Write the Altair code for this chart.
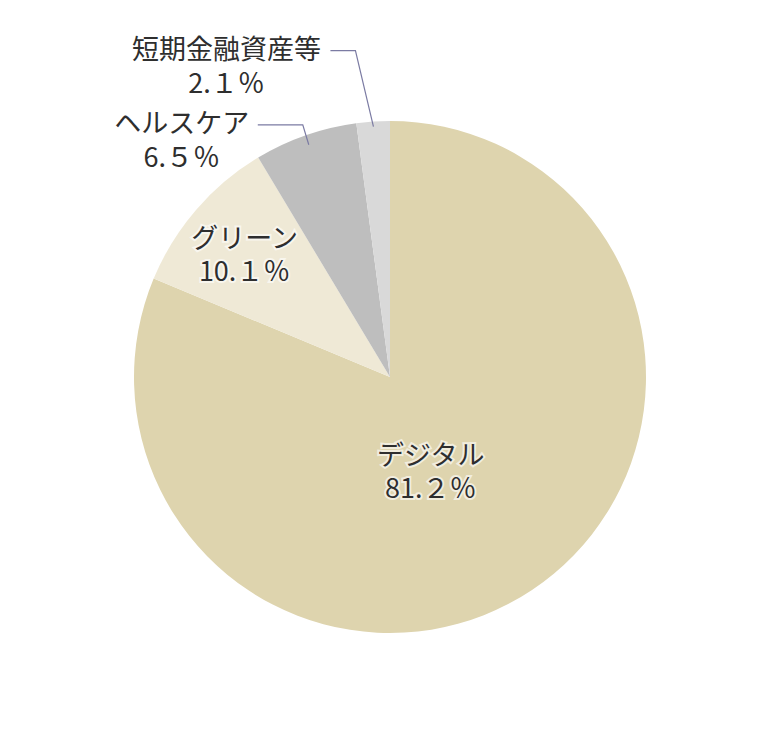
import math
import altair as alt
import pandas as pd

categories = ["デジタル", "グリーン", "ヘルスケア", "短期金融資産等"]
values = [81.2, 10.1, 6.5, 2.1]
pct_labels = ["81.２％", "10.１％", "6.５％", "2.１％"]
colors = ["#ded4ae", "#efe9d6", "#bebebe", "#d9d9d9"]

W, H = 764, 740
CX, CY, R = 382, 369, 256
FONT = "Noto Sans CJK JP"
FS = 27

total = sum(values)
order = list(range(len(categories)))
df = pd.DataFrame({"cat": categories, "val": values, "order": order})

# mid angles (clockwise from 12 o'clock)
mids = []
acc = 0.0
for v in values:
    mids.append((acc + v / 2) / total * 2 * math.pi)
    acc += v

def polar(a, r):
    return CX + r * math.sin(a), CY - r * math.cos(a)

rows = [None] * 4
dx0, dy0 = polar(mids[0], R * 0.40)
rows[0] = (dx0 - 16, dy0 + 11)
gx, gy = polar(mids[1], R * 0.74)
rows[1] = (gx - 2, gy + 3)

hx, hy = polar(mids[2], 246)
sx, sy = polar(mids[3], 251)
rows[2] = (hx - 127, hy - 3)
rows[3] = (sx - 147, sy - 59)

lab = pd.DataFrame({
    "name": categories,
    "pct": pct_labels,
    "x": [r[0] for r in rows],
    "y": [r[1] for r in rows],
})
lab["y1"] = lab["y"] - 16.5
lab["y2"] = lab["y"] + 17

# leader lines (polylines): healthcare and short-term
lines = pd.DataFrame({
    "g": ["h", "h", "h", "s", "s", "s"],
    "i": [0, 1, 2, 0, 1, 2],
    "x": [hx, hx - 6, hx - 51, sx, sx - 18, sx - 43],
    "y": [hy, hy - 20, hy - 20, sy, sy - 76, sy - 76],
})

xs = alt.X("x:Q", scale=alt.Scale(domain=[0, W]), axis=None)

pie = alt.Chart(df).mark_arc(stroke=None).encode(
    theta=alt.Theta("val:Q", stack=True),
    order=alt.Order("order:Q"),
    color=alt.Color("cat:N", scale=alt.Scale(domain=categories, range=colors), legend=None),
    x=alt.value(CX), y=alt.value(CY), radius=alt.value(R),
)

leader = alt.Chart(lines).mark_line(color="#7b7ba3", strokeWidth=1.2).encode(
    x=xs, y=alt.Y("y:Q", scale=alt.Scale(domain=[H, 0]), axis=None),
    detail="g:N", order="i:Q"
)

def texts(field, yfield):
    yenc = alt.Y(f"{yfield}:Q", scale=alt.Scale(domain=[H, 0]), axis=None)
    halo = alt.Chart(lab).mark_text(
        font=FONT, fontSize=FS, stroke="white", strokeWidth=4, strokeOpacity=0.6,
        fill="white", baseline="middle", align="center"
    ).encode(x=xs, y=yenc, text=f"{field}:N")
    t = alt.Chart(lab).mark_text(
        font=FONT, fontSize=FS, color="#2e2e2e", baseline="middle", align="center"
    ).encode(x=xs, y=yenc, text=f"{field}:N")
    return halo + t

chart = alt.layer(pie, leader, texts("name", "y1"), texts("pct", "y2")).properties(
    width=W, height=H, padding=0, autosize="none"
).configure_view(stroke=None)

chart.save("out.html", embed_options={"renderer": "svg", "actions": False})
